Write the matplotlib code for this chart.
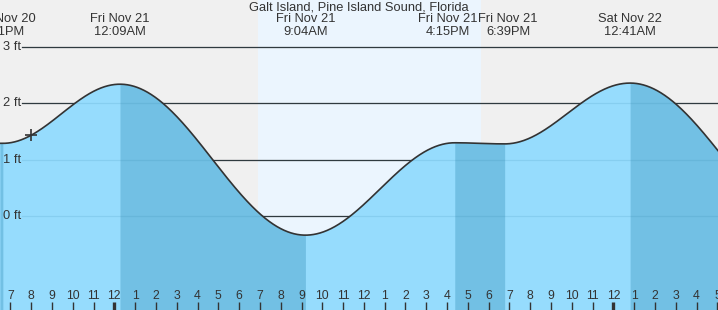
import numpy as np
import matplotlib.pyplot as plt
import matplotlib.transforms as mtransforms

plt.rcParams['font.family'] = ['Liberation Sans', 'DejaVu Sans']

# Tide extremes, hours counted from Fri Nov 21 00:00 (local time)
ext_hours = [-8.0, -5.483, 0.15, 9.067, 16.25, 18.65, 24.683, 33.7]
ext_feet = [1.34, 1.29, 2.34, -0.34, 1.30, 1.28, 2.36, -0.30]
ext_day = ['', 'Thu Nov 20', 'Fri Nov 21', 'Fri Nov 21', 'Fri Nov 21',
           'Fri Nov 21', 'Sat Nov 22', '']
ext_time = ['', '6:31PM', '12:09AM', '9:04AM', '4:15PM', '6:39PM', '12:41AM', '']
label_nudge_px = [0, 0, 0, 0, -7, 3.5, 0, 0]

sunrise, sunset = 6.78, 17.52
now_hour = -4.13
ft_levels = [0, 1, 2, 3]
hour_ticks = list(range(-5, 30))

title = 'Galt Island, Pine Island Sound, Florida'

# colours
bg = '#F0F0F0'
day_col = '#EBF5FE'
light = '#96DCFD'
dark = '#72C0E4'
ink = '#333333'

W, H = 718, 310
xmin, xmax = -5.62, 28.91
ymin, ymax = -1.669, 3.835


def tide(t):
    t = np.asarray(t, dtype=float)
    out = np.zeros_like(t)
    for i in range(len(ext_hours) - 1):
        t0, t1 = ext_hours[i], ext_hours[i + 1]
        h0, h1 = ext_feet[i], ext_feet[i + 1]
        m = (t >= t0) & (t <= t1)
        out[m] = h0 + (h1 - h0) * (1 - np.cos(np.pi * (t[m] - t0) / (t1 - t0))) / 2
    return out


fig = plt.figure(figsize=(W / 100, H / 100), dpi=100, facecolor=bg)
ax = fig.add_axes([0, 0, 1, 1])
ax.set_xlim(xmin, xmax)
ax.set_ylim(ymin, ymax)
ax.axis('off')

# daylight band
ax.axvspan(sunrise, sunset, color=day_col, lw=0, zorder=0)

# grid lines (dark above water)
for ft in ft_levels:
    ax.axhline(ft, xmin=22 / W, color=ink, lw=0.9, zorder=1)

# water fill: light when rising, darker when falling
t = np.linspace(xmin, xmax, 2000)
level = tide(t)
ax.fill_between(t, level, ymin, color=light, lw=0, zorder=2)
for i in range(len(ext_hours) - 1):
    if ext_feet[i] > ext_feet[i + 1]:
        a, b = max(ext_hours[i], xmin), min(ext_hours[i + 1], xmax)
        if a < b:
            ts = np.linspace(a, b, 400)
            ax.fill_between(ts, tide(ts), ymin, color=dark, lw=0, zorder=2)

# faint grid lines under water
for ft in ft_levels:
    ax.axhline(ft, xmin=22 / W, color='#1a6f99', alpha=0.12, lw=0.9, zorder=3)

ax.plot(t, level, color=ink, lw=1.2, zorder=4)
ax.plot([now_hour], tide([now_hour]), marker='+', ms=9, mew=1.2, color=ink, zorder=5)

# y labels
ytr = mtransforms.blended_transform_factory(ax.transAxes, ax.transData)
for ft in ft_levels:
    ax.text(3 / W, ft, f'{ft} ft', transform=ytr, ha='left', va='center',
            fontsize=9.3, color=ink, zorder=6)

# hour axis
xtr = ax.get_xaxis_transform()
shift = -0.12
for h in hour_ticks:
    lab = str((h % 12) or 12)
    ax.text(h + shift, 1 - 296 / H, lab, transform=xtr, ha='center', va='center',
            fontsize=8.8, color=ink, zorder=6)
    midnight = h % 24 == 0
    ax.vlines(h + shift, 0, 8 / H, transform=xtr, color=ink,
              lw=2.4 if midnight else 1.0, zorder=6)

# event labels
for i, h in enumerate(ext_hours):
    if not ext_time[i]:
        continue
    tr = mtransforms.offset_copy(xtr, fig=fig, x=label_nudge_px[i], y=0, units='dots')
    ax.text(h, 1 - 19.5 / H, ext_day[i], transform=tr, ha='center', va='center',
            fontsize=9.3, color=ink, zorder=6)
    ax.text(h, 1 - 32 / H, ext_time[i], transform=tr, ha='center', va='center',
            fontsize=9.3, color=ink, zorder=6)

ax.text(0.5, 1 - 7 / H, title, transform=ax.transAxes, ha='center', va='center',
        fontsize=9.3, color=ink, zorder=6)

fig.savefig('out.png', dpi=100, facecolor=bg)
